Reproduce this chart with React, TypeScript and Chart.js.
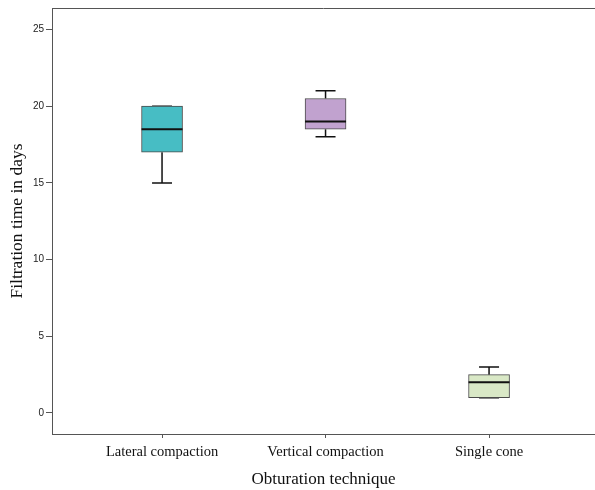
import React, { useEffect, useRef } from "react";
import { Chart, registerables } from "chart.js";

Chart.register(...registerables);

const categories = ["Lateral compaction", "Vertical compaction", "Single cone"];
const mins = [15, 18, 1];
const q1s = [17, 18.5, 1];
const medians = [18.5, 19, 2];
const q3s = [20, 20.5, 2.5];
const maxs = [20, 21, 3];
const boxColors = ["#47bdc4", "#c1a2cf", "#d9e8c6"];
const yTicks = [0, 5, 10, 15, 20, 25];

const boxPlugin = {
  id: "boxExtras",
  beforeDatasetsDraw(chart: any) {
    const { ctx, scales } = chart;
    const x = scales.x;
    const y = scales.y;
    ctx.save();
    ctx.strokeStyle = "#111";
    ctx.lineWidth = 1.5;
    categories.forEach((_, i) => {
      const cx = x.getPixelForValue(i);
      const capHalf = 10;
      const yMin = y.getPixelForValue(mins[i]);
      const yMax = y.getPixelForValue(maxs[i]);
      const yQ1 = y.getPixelForValue(q1s[i]);
      const yQ3 = y.getPixelForValue(q3s[i]);
      ctx.beginPath();
      ctx.moveTo(cx, yMin);
      ctx.lineTo(cx, yQ1);
      ctx.moveTo(cx, yMax);
      ctx.lineTo(cx, yQ3);
      ctx.moveTo(cx - capHalf, yMin);
      ctx.lineTo(cx + capHalf, yMin);
      ctx.moveTo(cx - capHalf, yMax);
      ctx.lineTo(cx + capHalf, yMax);
      ctx.stroke();
    });
    ctx.restore();
  },
  afterDatasetsDraw(chart: any) {
    const { ctx, scales, chartArea } = chart;
    const x = scales.x;
    const y = scales.y;
    ctx.save();
    ctx.strokeStyle = "#111";
    ctx.lineWidth = 2;
    categories.forEach((_, i) => {
      const cx = x.getPixelForValue(i);
      const half = 20.5;
      const ym = y.getPixelForValue(medians[i]);
      ctx.beginPath();
      ctx.moveTo(cx - half, ym);
      ctx.lineTo(cx + half, ym);
      ctx.stroke();
    });
    ctx.strokeStyle = "#555";
    ctx.lineWidth = 1;
    ctx.beginPath();
    ctx.moveTo(chartArea.left, chartArea.top + 0.5);
    ctx.lineTo(chartArea.right, chartArea.top + 0.5);
    ctx.stroke();
    ctx.restore();
  },
};

export default function App() {
  const ref = useRef<HTMLCanvasElement>(null);
  useEffect(() => {
    if (!ref.current) return;
    const chart = new Chart(ref.current, {
      type: "bar",
      data: {
        datasets: [
          {
            data: categories.map((_, i) => ({ x: i, y: [q1s[i], q3s[i]] })) as any,
            backgroundColor: boxColors,
            borderColor: "#4a4a4a",
            borderWidth: 1,
            borderSkipped: false,
            barThickness: 41,
          },
        ],
      },
      options: {
        responsive: false,
        animation: false,
        layout: { padding: { top: 8, right: 0, left: 0, bottom: 0 } },
        plugins: { legend: { display: false }, tooltip: { enabled: false } },
        scales: {
          x: {
            type: "linear",
            offset: false,
            min: -0.673,
            max: 2.648,
            afterBuildTicks: (s: any) => {
              s.ticks = categories.map((_, i) => ({ value: i }));
            },
            afterFit: (s: any) => {
              s.height = 56;
            },
            grid: { drawOnChartArea: false, offset: false, tickLength: 4, color: "#555" },
            border: { color: "#555", width: 1 },
            ticks: {
              callback: (v: any) => categories[v] ?? "",
              font: { family: "'Liberation Serif', 'Times New Roman', serif", size: 14.5 },
              color: "#111",
              padding: 5,
              maxRotation: 0,
              autoSkip: false,
            },
            title: {
              display: true,
              text: "Obturation technique",
              font: { family: "'Liberation Serif', 'Times New Roman', serif", size: 17 },
              color: "#111",
              padding: { top: 2, bottom: 0 },
            },
          },
          y: {
            type: "linear",
            min: -1.37,
            max: 26.4,
            afterBuildTicks: (s: any) => {
              s.ticks = yTicks.map((v) => ({ value: v }));
            },
            afterFit: (s: any) => {
              s.width = 52;
            },
            grid: { drawOnChartArea: false, tickLength: 6, color: "#555" },
            border: { color: "#555", width: 1 },
            ticks: {
              font: { family: "'Liberation Sans', Arial, sans-serif", size: 10 },
              color: "#222",
              padding: 2,
            },
            title: {
              display: true,
              text: "Filtration time in days",
              font: { family: "'Liberation Serif', 'Times New Roman', serif", size: 17.5 },
              color: "#111",
              padding: { top: 7, bottom: 0 },
            },
          },
        },
      },
      plugins: [boxPlugin],
    });
    return () => chart.destroy();
  }, []);
  return (
    <div style={{ position: "fixed", left: 0, top: 0, width: 595, height: 490, background: "#fff" }}>
      <canvas ref={ref} width={595} height={490} />
    </div>
  );
}
